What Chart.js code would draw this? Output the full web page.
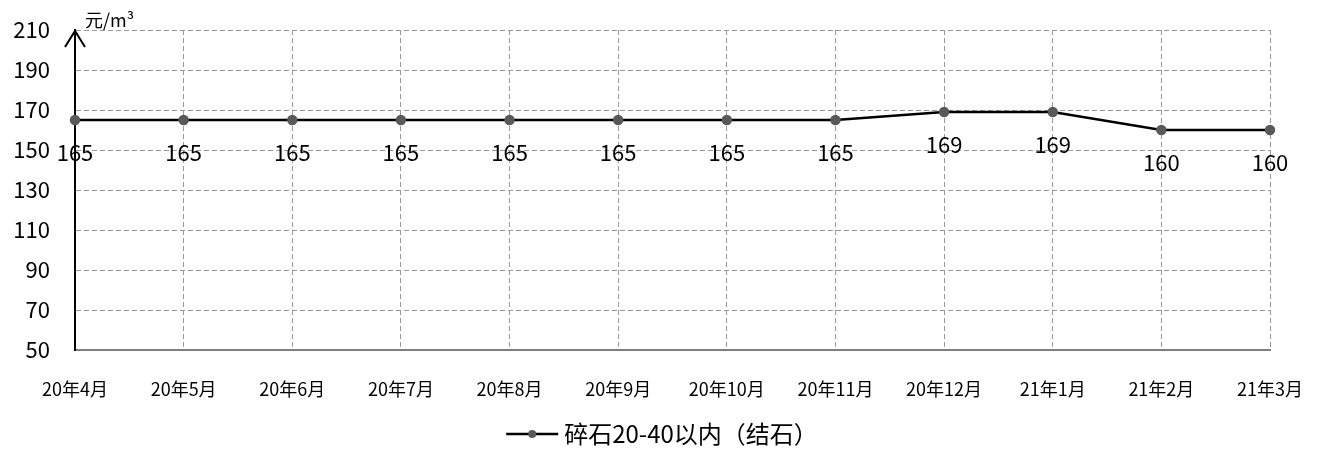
<!DOCTYPE html>
<html><head><meta charset="utf-8">
<script src="https://cdn.jsdelivr.net/npm/chart.js@4"></script>
<style>html,body{margin:0;padding:0;background:#fff}#wrap{width:1324px;height:458px}</style>
</head><body><div id="wrap"><canvas id="c" width="1324" height="458"></canvas></div>
<script>
const categories = ["20年4月","20年5月","20年6月","20年7月","20年8月","20年9月","20年10月","20年11月","20年12月","21年1月","21年2月","21年3月"];
const seriesName = "碎石20-40以内（结石）";
const values = [165,165,165,165,165,165,165,165,169,169,160,160];
const yUnit = "元/m³";
const FONT = "'Noto Sans CJK SC', 'Noto Sans', sans-serif";

const extras = {
  id: 'extras',
  afterDatasetsDraw(chart) {
    const ctx = chart.ctx;
    const meta = chart.getDatasetMeta(0);
    ctx.save();
    ctx.fillStyle = '#000';
    ctx.font = '22px ' + FONT;
    ctx.textAlign = 'center';
    ctx.textBaseline = 'middle';
    meta.data.forEach((p, i) => {
      ctx.fillText(String(values[i]), p.x, p.y + 33);
    });
    ctx.restore();
  },
  afterDraw(chart) {
    const ctx = chart.ctx;
    const a = chart.chartArea;
    ctx.save();
    ctx.strokeStyle = '#000';
    ctx.lineWidth = 2;
    ctx.beginPath();
    ctx.moveTo(a.left - 10, a.top + 17);
    ctx.lineTo(a.left, a.top + 1);
    ctx.lineTo(a.left + 10, a.top + 17);
    ctx.stroke();
    ctx.fillStyle = '#000';
    ctx.font = '18px ' + FONT;
    ctx.textAlign = 'left';
    ctx.textBaseline = 'middle';
    ctx.fillText(yUnit, a.left + 10, a.top - 10);
    ctx.font = '24px ' + FONT;
    const tw = ctx.measureText(seriesName).width;
    const lw = 52, gap = 6;
    const total = lw + gap + tw;
    const x0 = (chart.width - total) / 2;
    const y0 = 434;
    ctx.strokeStyle = '#000';
    ctx.lineWidth = 2.5;
    ctx.beginPath();
    ctx.moveTo(x0, y0); ctx.lineTo(x0 + lw, y0); ctx.stroke();
    ctx.fillStyle = '#595959';
    ctx.beginPath(); ctx.arc(x0 + lw / 2, y0, 4, 0, Math.PI * 2); ctx.fill();
    ctx.fillStyle = '#000';
    ctx.fillText(seriesName, x0 + lw + gap, y0);
    ctx.restore();
  }
};

function noPad(s) { s.paddingTop = 0; s.paddingBottom = 0; s.paddingLeft = 0; s.paddingRight = 0; }

new Chart(document.getElementById('c'), {
  type: 'line',
  data: {
    labels: categories,
    datasets: [{
      label: seriesName,
      data: values,
      borderColor: '#000',
      borderWidth: 2.5,
      pointBackgroundColor: '#595959',
      pointBorderColor: '#595959',
      pointRadius: 4,
      tension: 0,
      fill: false
    }]
  },
  options: {
    responsive: false,
    animation: false,
    layout: { padding: { left: 0, right: 54, top: 30, bottom: 0 } },
    plugins: { legend: { display: false }, tooltip: { enabled: false } },
    scales: {
      x: {
        offset: false,
        grid: { color: '#9a9a9a', lineWidth: 1, drawTicks: false },
        border: { color: '#808080', width: 2, dash: [5, 3] },
        ticks: { color: '#000', font: { size: 18, family: FONT }, padding: 28, maxRotation: 0, autoSkip: false },
        afterFit(s) { s.height = 108; noPad(s); }
      },
      y: {
        min: 50, max: 210,
        grid: { color: '#9a9a9a', lineWidth: 1, drawTicks: false },
        border: { color: '#000', width: 2, dash: [5, 3] },
        ticks: { stepSize: 20, color: '#000', font: { size: 22, family: FONT }, padding: 25 },
        afterFit(s) { s.width = 75; noPad(s); }
      }
    }
  },
  plugins: [extras]
});
</script></body></html>
